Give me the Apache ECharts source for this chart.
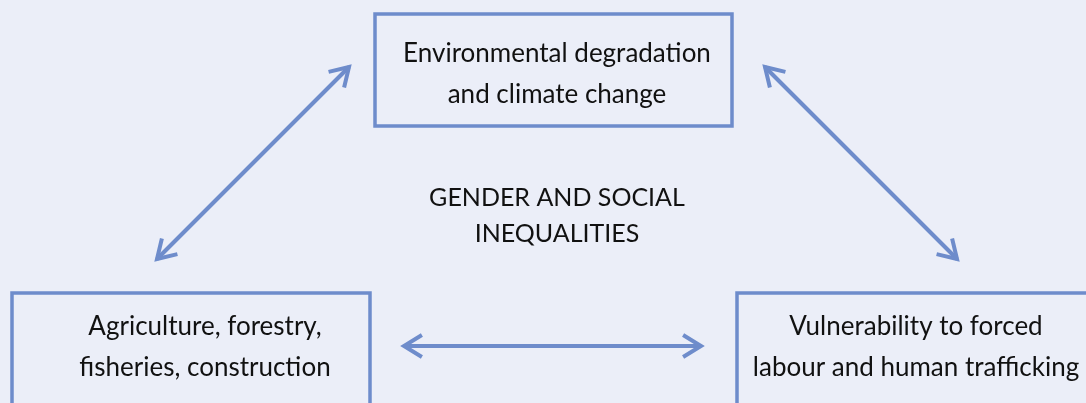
<!DOCTYPE html>
<html><head><meta charset="utf-8">
<script src="https://cdn.jsdelivr.net/npm/echarts@6/dist/echarts.min.js"></script>
<style>html,body{margin:0;padding:0;background:#EBEEF8}#c{width:1086px;height:403px}</style>
</head><body><div id="c"></div>
<script>
// Diagram space: x 0..1086, y 0..403 (top to bottom)
const boxNames = ['Environmental degradation\nand climate change', 'Agriculture, forestry,\nfisheries, construction', 'Vulnerability to forced\nlabour and human trafficking'];
const boxX0 = [375, 12, 737];
const boxY0 = [14, 293, 293];
const boxX1 = [732, 370, 1110];
const boxY1 = [126, 430, 430];
const boxTextX = [557, 205, 916];
const boxTextY = [74, 347, 347];
const centerText = 'GENDER AND SOCIAL\nINEQUALITIES';
const centerPos = [557, 216];
const arrowFrom = [[157, 259], [765, 67], [404, 346]];
const arrowTo = [[349, 67], [957, 259], [701, 346]];

const stroke = '#6E8CCB';
const chart = echarts.init(document.getElementById('c'));

function chevron(tip, other, api) {
  const p = api.coord(tip), q = api.coord(other);
  const ang = Math.atan2(q[1] - p[1], q[0] - p[0]);
  const L = 21, a = 0.55;
  return {
    type: 'polyline',
    shape: { points: [[p[0] + L * Math.cos(ang + a), p[1] + L * Math.sin(ang + a)], p, [p[0] + L * Math.cos(ang - a), p[1] + L * Math.sin(ang - a)]] },
    style: { stroke: stroke, lineWidth: 4, fill: null, lineJoin: 'miter', lineCap: 'butt' }
  };
}

chart.setOption({
  backgroundColor: '#EBEEF8',
  animation: false,
  grid: { left: 0, right: 0, top: 0, bottom: 0 },
  xAxis: { type: 'value', min: 0, max: 1086, show: false },
  yAxis: { type: 'value', min: 0, max: 403, inverse: true, show: false },
  series: [
    {
      type: 'custom',
      data: boxNames.map((n, i) => [boxX0[i], boxY0[i], boxX1[i], boxY1[i], boxTextX[i], boxTextY[i]]),
      renderItem: function (params, api) {
        const i = params.dataIndex;
        const a = api.coord([api.value(0), api.value(1)]);
        const b = api.coord([api.value(2), api.value(3)]);
        const t = api.coord([api.value(4), api.value(5)]);
        return {
          type: 'group',
          children: [
            { type: 'rect', shape: { x: a[0], y: a[1], width: b[0] - a[0], height: b[1] - a[1] },
              style: { stroke: stroke, lineWidth: 3.5, fill: null } },
            { type: 'text', x: t[0], y: t[1],
              style: { text: boxNames[i], fill: '#111111', font: '26px Lato', align: 'center', verticalAlign: 'middle', lineHeight: 41 } }
          ]
        };
      }
    },
    {
      type: 'custom',
      data: arrowFrom.map((f, i) => [f[0], f[1], arrowTo[i][0], arrowTo[i][1]]),
      renderItem: function (params, api) {
        const f = [api.value(0), api.value(1)], t = [api.value(2), api.value(3)];
        const p = api.coord(f), q = api.coord(t);
        return {
          type: 'group',
          children: [
            { type: 'line', shape: { x1: p[0], y1: p[1], x2: q[0], y2: q[1] }, style: { stroke: stroke, lineWidth: 4 } },
            chevron(f, t, api),
            chevron(t, f, api)
          ]
        };
      }
    },
    {
      type: 'custom',
      data: [centerPos],
      renderItem: function (params, api) {
        const c = api.coord([api.value(0), api.value(1)]);
        return { type: 'text', x: c[0], y: c[1],
          style: { text: centerText, fill: '#111111', font: '25px Lato', align: 'center', verticalAlign: 'middle', lineHeight: 36 } };
      }
    }
  ]
});
</script></body></html>
